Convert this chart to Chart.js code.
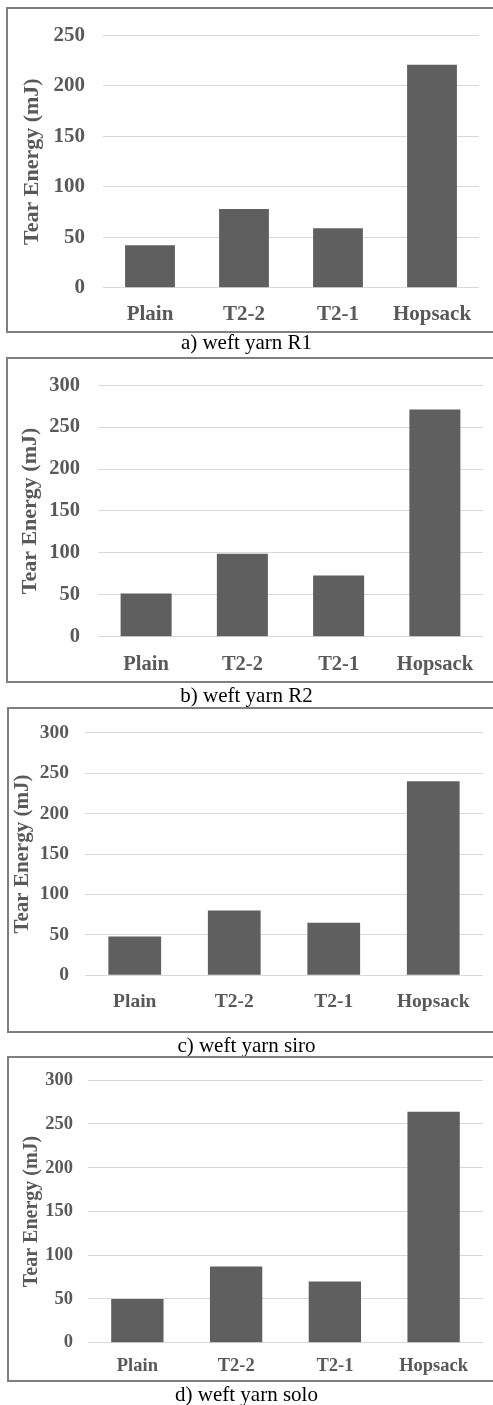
<!DOCTYPE html>
<html>
<head>
<meta charset="utf-8">
<script src="https://cdn.jsdelivr.net/npm/chart.js@4/dist/chart.umd.min.js"></script>
<style>
  html, body { margin: 0; padding: 0; background: #fff; }
  body { width: 493px; height: 1405px; position: relative; overflow: hidden; font-family: "Liberation Serif", "Times New Roman", serif; }
  .frame { position: absolute; border-left: 2px solid #7f7f7f; border-top: 2px solid #7f7f7f; border-bottom: 2px solid #7f7f7f; box-sizing: border-box; pointer-events: none; }
  .cv { position: absolute; left: 0; }
  .cap { position: absolute; left: 0; width: 493px; text-align: center; font-size: 21px; color: #000; line-height: 22px; }
</style>
</head>
<body>
<script>
// ---- data ----
const categories = ["Plain", "T2-2", "T2-1", "Hopsack"];
const valuesR1 = [42, 78, 59, 221];
const valuesR2 = [51.5, 99, 73, 271];
const valuesSiro = [48, 80, 65, 240];
const valuesSolo = [50, 87, 70, 264];
const yMaxR1 = 250;
const yMaxOthers = 300;
const yStep = 50;
const yTitle = "Tear Energy (mJ)";
const captions = ["a) weft yarn R1", "b) weft yarn R2", "c) weft yarn siro", "d) weft yarn solo"];

// ---- layout (pixels) ----
const panels = [
  { values: valuesR1, max: yMaxR1, cap: captions[0], frameTop: 7, frameBottom: 333, frameLeft: 6,
    plotLeft: 103, plotRight: 479, plotTop: 25.3, plotBottom: 287.7, tickSize: 21, tickPad: 18,
    titleSize: 22, titleX: 32, xPad: 14, capY: 342 },
  { values: valuesR2, max: yMaxOthers, cap: captions[1], frameTop: 357, frameBottom: 683, frameLeft: 6,
    plotLeft: 98, plotRight: 483, plotTop: 374.7, plotBottom: 636.7, tickSize: 20.5, tickPad: 18,
    titleSize: 22, titleX: 30, xPad: 16, capY: 695 },
  { values: valuesSiro, max: yMaxOthers, cap: captions[2], frameTop: 707, frameBottom: 1033, frameLeft: 7,
    plotLeft: 85, plotRight: 483, plotTop: 719.3, plotBottom: 975.3, tickSize: 19.5, tickPad: 16,
    titleSize: 21, titleX: 23, xPad: 15, capY: 1045 },
  { values: valuesSolo, max: yMaxOthers, cap: captions[3], frameTop: 1056, frameBottom: 1382, frameLeft: 7,
    plotLeft: 88, plotRight: 483, plotTop: 1073.7, plotBottom: 1342.7, tickSize: 18.5, tickPad: 15,
    titleSize: 20, titleX: 32, xPad: 12.5, capY: 1394 }
];

const W = 493;
panels.forEach((p, i) => {
  const frame = document.createElement('div');
  frame.className = 'frame';
  frame.style.left = p.frameLeft + 'px';
  frame.style.top = p.frameTop + 'px';
  frame.style.width = (W - p.frameLeft + 10) + 'px';
  frame.style.height = (p.frameBottom - p.frameTop) + 'px';

  const cTop = p.frameTop;
  const cH = p.frameBottom - p.frameTop;
  const canvas = document.createElement('canvas');
  canvas.className = 'cv';
  canvas.style.top = cTop + 'px';
  canvas.style.width = W + 'px';
  canvas.style.height = cH + 'px';
  canvas.width = W; canvas.height = cH;
  const wrap = document.createElement('div');
  wrap.style.position = 'absolute';
  wrap.style.left = '0px';
  wrap.style.top = cTop + 'px';
  wrap.style.width = W + 'px';
  wrap.style.height = cH + 'px';
  wrap.appendChild(canvas);
  canvas.style.top = '0px';
  document.body.appendChild(wrap);
  document.body.appendChild(frame);

  const cap = document.createElement('div');
  cap.className = 'cap';
  cap.style.top = (p.capY - 11) + 'px';
  cap.textContent = p.cap;
  document.body.appendChild(cap);

  const padTop = p.plotTop - cTop;
  const padRight = W - p.plotRight;
  const yAxisW = p.plotLeft;
  const xAxisH = (cTop + cH) - p.plotBottom;
  const titleLH = p.titleSize * 1.2;

  new Chart(canvas, {
    type: 'bar',
    data: {
      labels: categories,
      datasets: [{
        data: p.values,
        backgroundColor: '#5f5f5f',
        borderWidth: 0,
        barPercentage: 0.53,
        categoryPercentage: 1.0
      }]
    },
    options: {
      responsive: false,
      animation: false,
      devicePixelRatio: 1,
      layout: { padding: { top: padTop, right: padRight, left: 0, bottom: 0 } },
      plugins: { legend: { display: false }, tooltip: { enabled: false }, title: { display: false } },
      scales: {
        x: {
          offset: true,
          grid: { display: false, drawTicks: false },
          border: { display: false },
          ticks: {
            color: '#595959',
            padding: p.xPad,
            maxRotation: 0,
            autoSkip: false,
            font: { family: 'Liberation Serif', size: p.tickSize, weight: 'bold', lineHeight: 1.2 }
          },
          afterFit: (s) => { s.height = xAxisH; }
        },
        y: {
          min: 0,
          max: p.max,
          grid: { color: '#d9d9d9', lineWidth: 1, drawTicks: false },
          border: { display: false },
          ticks: {
            stepSize: yStep,
            color: '#595959',
            padding: p.tickPad,
            font: { family: 'Liberation Serif', size: p.tickSize, weight: 'bold', lineHeight: 1.0 }
          },
          title: {
            display: true,
            text: yTitle,
            color: '#595959',
            padding: { top: p.titleX - titleLH / 2, bottom: 0 },
            font: { family: 'Liberation Serif', size: p.titleSize, weight: 'bold', lineHeight: 1.2 }
          },
          afterFit: (s) => { s.width = yAxisW; }
        }
      }
    }
  });
});
</script>
</body>
</html>
